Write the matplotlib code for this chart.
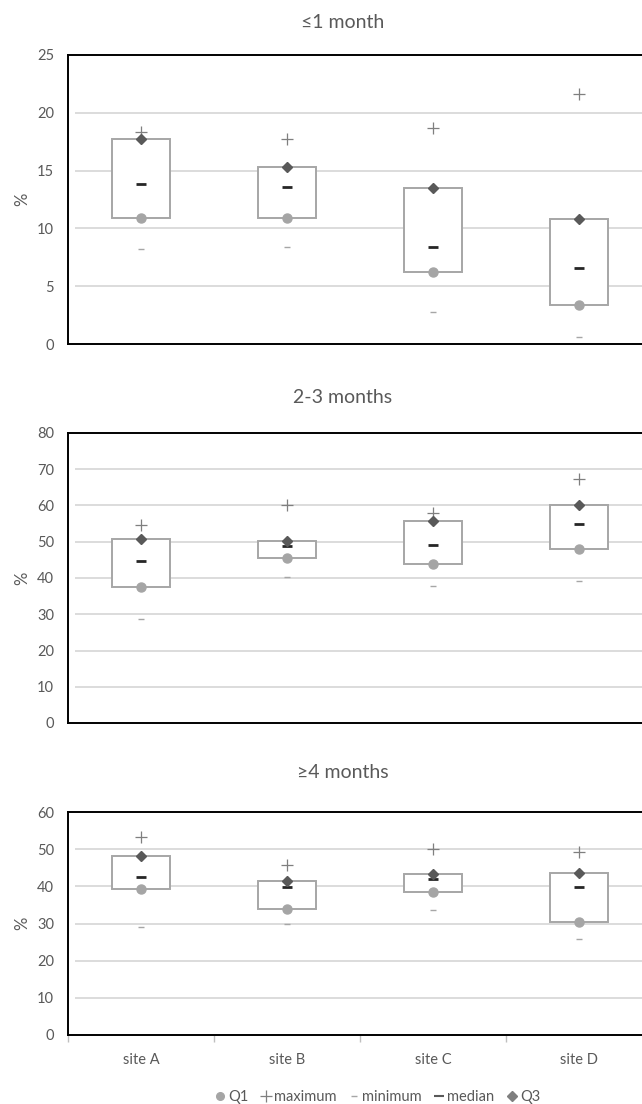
import matplotlib
matplotlib.use("Agg")
import matplotlib.pyplot as plt
from matplotlib.lines import Line2D

plt.rcParams['font.family'] = ['Lato', 'DejaVu Sans']

sites = ["site A", "site B", "site C", "site D"]

# ≤1 month
m1_min = [8.2, 8.4, 2.8, 0.6]
m1_q1 = [10.9, 10.9, 6.2, 3.4]
m1_median = [13.8, 13.6, 8.4, 6.6]
m1_q3 = [17.7, 15.3, 13.5, 10.8]
m1_max = [18.3, 17.7, 18.7, 21.6]

# 2-3 months
m23_min = [28.8, 40.2, 37.8, 39.2]
m23_q1 = [37.4, 45.4, 43.9, 47.9]
m23_median = [44.7, 48.9, 49.1, 54.8]
m23_q3 = [50.7, 50.2, 55.8, 60.0]
m23_max = [54.6, 60.0, 57.9, 67.3]

# ≥4 months
m4_min = [29.1, 29.8, 33.6, 25.9]
m4_q1 = [39.3, 33.9, 38.4, 30.5]
m4_median = [42.5, 39.8, 41.9, 39.9]
m4_q3 = [48.1, 41.4, 43.2, 43.6]
m4_max = [53.4, 45.7, 50.0, 49.3]

titles = ["≤1 month", "2-3 months", "≥4 months"]
y_limits = [25, 80, 60]
y_steps = [5, 10, 10]

TEXT = "#595959"
GRID = "#d9d9d9"
BOX = "#a6a6a6"

W, H = 642, 1104
fig = plt.figure(figsize=(W / 100, H / 100), dpi=100)

# panel boxes in pixels: (top, bottom)
panels_px = [(55, 344), (433, 723), (812, 1035)]
left_px, right_px = 68, 652
title_y_px = [22, 398, 773]

data = [
    (m1_min, m1_q1, m1_median, m1_q3, m1_max),
    (m23_min, m23_q1, m23_median, m23_q3, m23_max),
    (m4_min, m4_q1, m4_median, m4_q3, m4_max),
]

x = list(range(1, len(sites) + 1))

for i, ((top, bot), (vmin, q1, med, q3, vmax)) in enumerate(zip(panels_px, data)):
    ax = fig.add_axes([left_px / W, 1 - bot / H, (right_px - left_px) / W, (bot - top) / H])
    ax.set_xlim(0.5, len(sites) + 0.5)
    ax.set_ylim(0, y_limits[i])
    ticks = list(range(0, y_limits[i] + 1, y_steps[i]))
    ax.set_yticks(ticks)
    ax.tick_params(axis='y', length=0, pad=10, labelsize=10.5, labelcolor=TEXT)

    # horizontal gridlines, starting just right of the left spine
    ax.hlines(ticks[1:-1], 0.55, len(sites) + 0.5, colors=GRID, linewidth=1.3, zorder=0)

    # boxes from Q1 to Q3
    heights = [b - a for a, b in zip(q1, q3)]
    ax.bar(x, heights, bottom=q1, width=0.4, facecolor="white",
           edgecolor=BOX, linewidth=1.4, zorder=2)

    ax.plot(x, q1, linestyle="none", marker="o", markersize=6.5,
            color="#a5a5a5", zorder=4)
    ax.plot(x, vmax, linestyle="none", marker="+", markersize=9,
            markeredgewidth=0.9, color="#7f7f7f", zorder=4)
    ax.plot(x, vmin, linestyle="none", marker="_", markersize=4,
            markeredgewidth=1.0, color="#a6a6a6", zorder=4)
    ax.plot(x, med, linestyle="none", marker="_", markersize=7,
            markeredgewidth=2.0, color="#262626", zorder=4)
    ax.plot(x, q3, linestyle="none", marker="D", markersize=5.5,
            color="#595959", zorder=4)

    for side in ("left", "top", "bottom"):
        ax.spines[side].set_color("black")
        ax.spines[side].set_linewidth(1.4)
    ax.spines["right"].set_visible(False)

    if i == 2:
        ax.set_xticks([k + 0.5 for k in range(len(sites) + 1)])
        ax.set_xticks(x, minor=True)
        ax.set_xticklabels([""] * (len(sites) + 1))
        ax.set_xticklabels(sites, minor=True)
        ax.tick_params(axis='x', which='major', length=5, width=1, color="#bfbfbf", direction="out")
        ax.tick_params(axis='x', which='minor', length=0, pad=13, labelsize=10.5, labelcolor=TEXT)
    else:
        ax.set_xticks([])

    ax.set_ylabel("%", color=TEXT, fontsize=12, labelpad=5)

    fig.text(343 / W, 1 - title_y_px[i] / H, titles[i], ha="center", va="center",
             fontsize=14, color=TEXT)

handles = [
    Line2D([], [], linestyle="none", marker="o", markersize=5.5, color="#a5a5a5"),
    Line2D([], [], linestyle="none", marker="+", markersize=8, markeredgewidth=0.9, color="#7f7f7f"),
    Line2D([], [], linestyle="none", marker="_", markersize=4, markeredgewidth=1.0, color="#a6a6a6"),
    Line2D([], [], linestyle="none", marker="_", markersize=7, markeredgewidth=1.5, color="#595959"),
    Line2D([], [], linestyle="none", marker="D", markersize=5, color="#7f7f7f"),
]
labels = ["Q1", "maximum", "minimum", "median", "Q3"]
fig.legend(handles, labels, loc="center", bbox_to_anchor=(378 / W, 1 - 1097 / H),
           ncol=5, frameon=False, fontsize=10.5, labelcolor=TEXT,
           handlelength=0.6, handletextpad=0.25, columnspacing=0.9)

fig.savefig("out.png", dpi=100, facecolor="white")
